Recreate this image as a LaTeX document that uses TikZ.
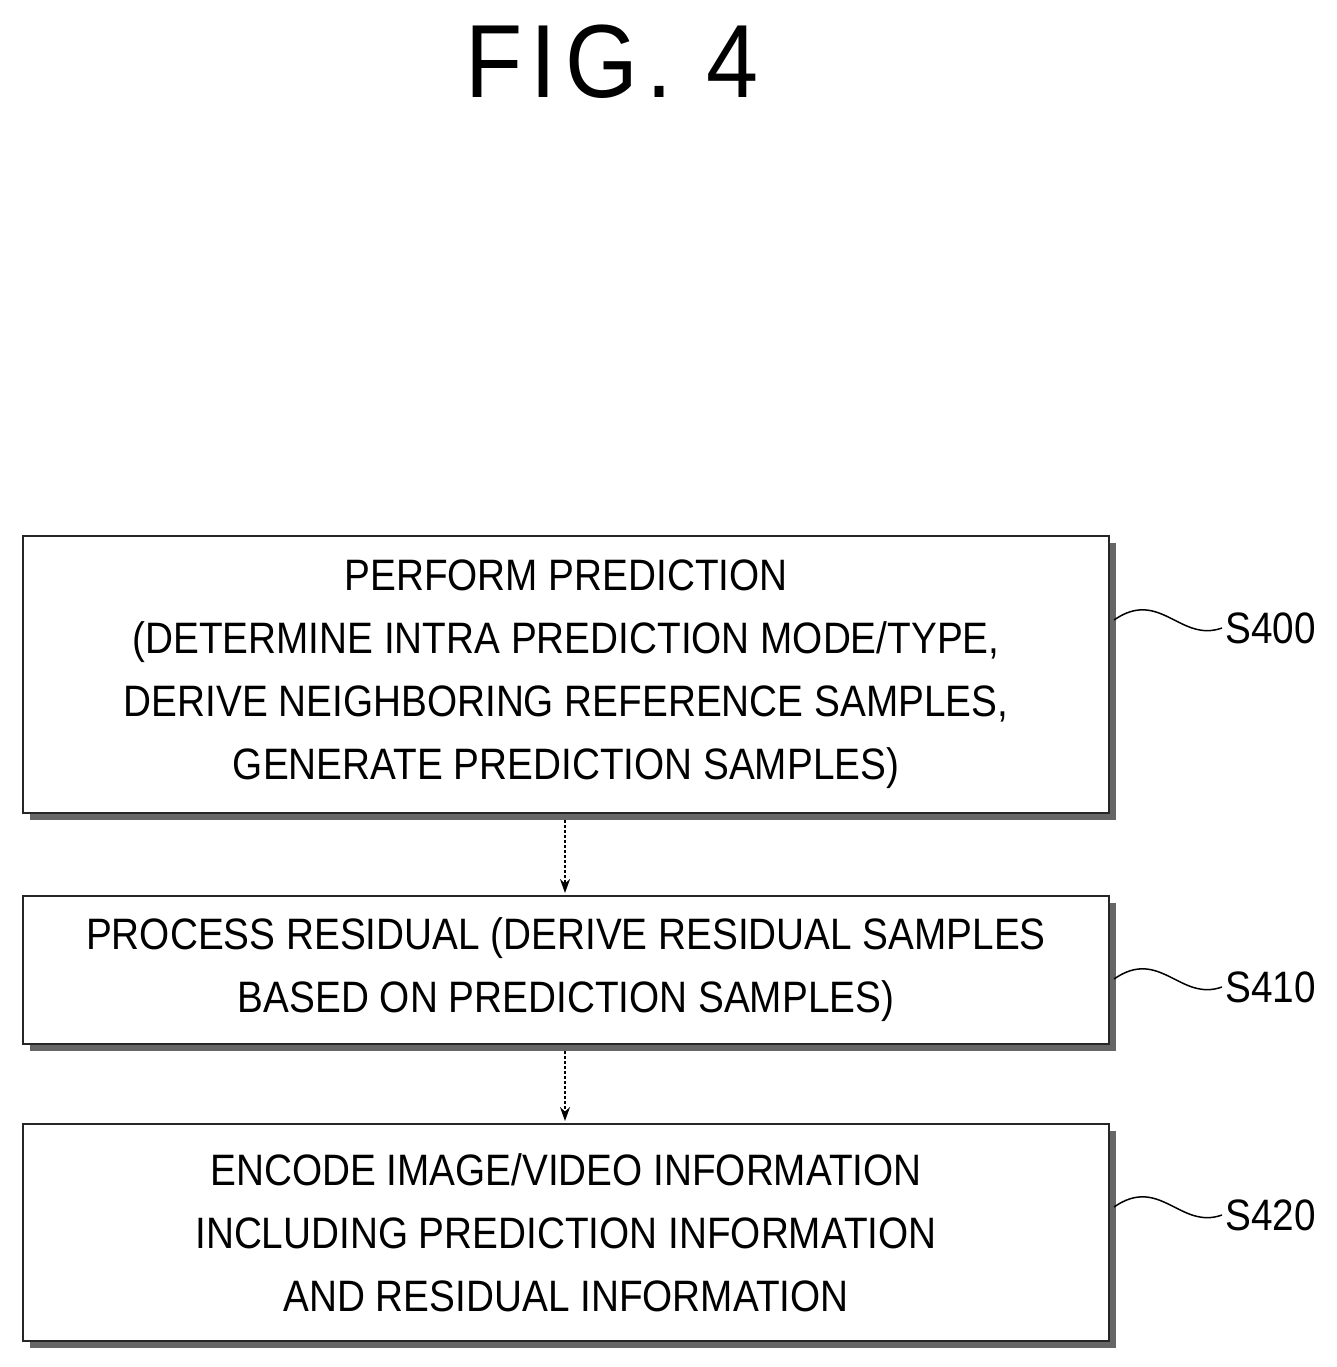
\documentclass[tikz,border=0pt]{standalone}
\usetikzlibrary{arrows.meta}
\usepackage{fontspec}
\setmainfont{Liberation Sans}[FakeStretch=0.88]
\newfontfamily\titlefont{Liberation Sans}[FakeStretch=0.9,LetterSpace=8]
\begin{document}
\begin{tikzpicture}[x=1pt,y=-1pt,
 box/.style={draw=black!85,line width=2pt,fill=white,minimum width=1086pt,anchor=north west,inner sep=0pt,align=center,font=\fontsize{44}{63}\selectfont},
 arr/.style={-{Stealth[length=14pt,width=10pt]},line width=1.5pt,densely dashed},
 lab/.style={font=\fontsize{44}{50}\selectfont,anchor=west},
 sq/.style={line width=1.5pt}]
\useasboundingbox (0,0) rectangle (1337,1367);
\node[font=\titlefont\fontsize{104}{104}\selectfont] (t) at (612,62) {FIG. 4};
\foreach \y/\h in {535/277,895/148,1123/217}{
 \fill[black!60] (30,\y+8) rectangle (1116,\y+\h+8);}
\node[box,minimum height=277pt] (a) at (22,535) {PERFORM PREDICTION\\(DETERMINE INTRA PREDICTION MODE/TYPE,\\DERIVE NEIGHBORING REFERENCE SAMPLES,\\GENERATE PREDICTION SAMPLES)};
\node[box,minimum height=148pt] (b) at (22,895) {PROCESS RESIDUAL (DERIVE RESIDUAL SAMPLES\\BASED ON PREDICTION SAMPLES)};
\node[box,minimum height=217pt] (c) at (22,1123) {ENCODE IMAGE/VIDEO INFORMATION\\INCLUDING PREDICTION INFORMATION\\AND RESIDUAL INFORMATION};
\draw[arr] (565,820) -- (565,893);
\draw[arr] (565,1051) -- (565,1121);
\foreach \n/\y/\t in {l1/628/S400,l2/987/S410,l3/1215/S420}{
 \node[lab] (\n) at (1222,\y) {\t};
 \coordinate (\n s) at (1114,\y-8);
 \draw[sq] (\n s) .. controls (1160,\y-40) and (1180,\y+15) .. (\n.west);}
\end{tikzpicture}
\end{document}
